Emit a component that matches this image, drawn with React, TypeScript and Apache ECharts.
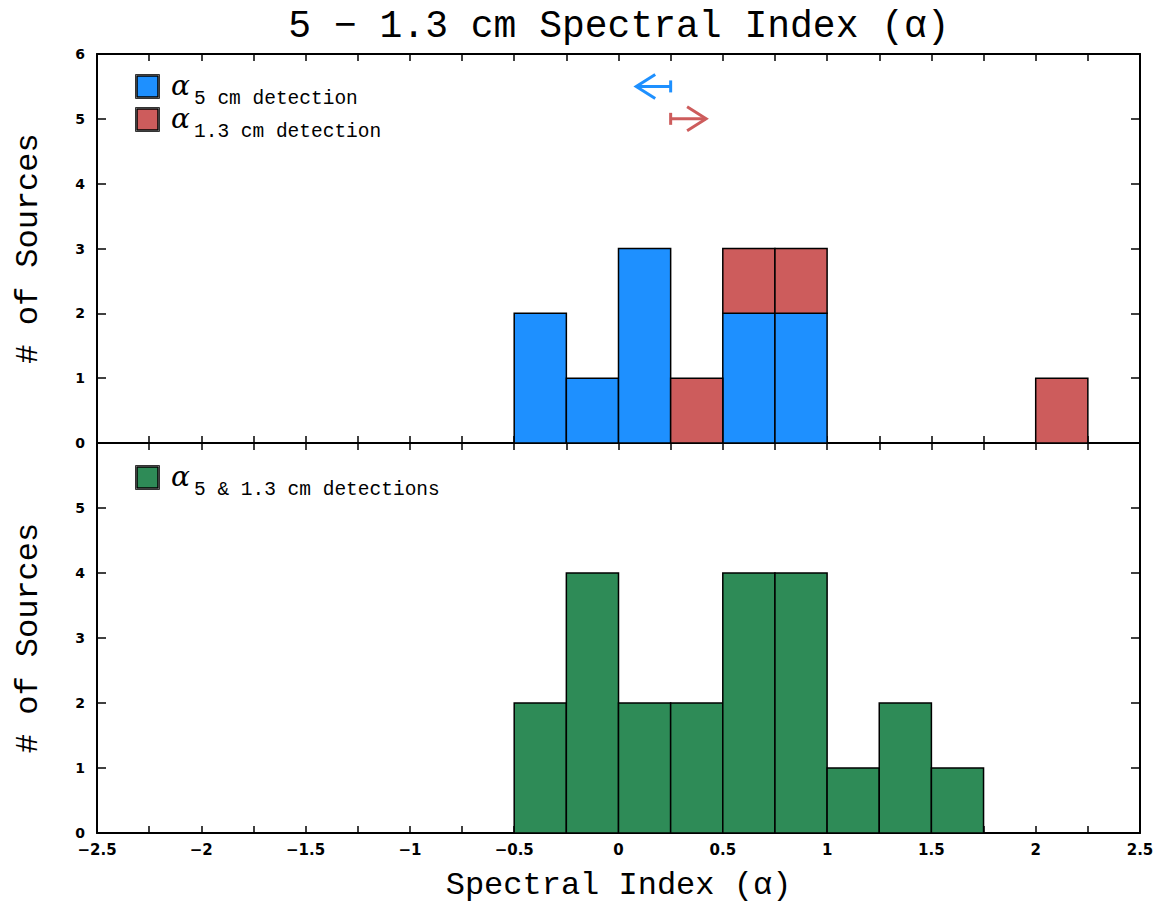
import React, { useEffect, useRef } from "react";
import * as echarts from "echarts";

// Histogram bins (left edges) and their common width
const binStarts = [-0.5, -0.25, 0, 0.25, 0.5, 0.75, 1, 1.25, 1.5, 1.75, 2];
const binWidth = 0.25;

// Upper panel: single-band detections (stacked)
const counts5cm = [2, 1, 3, 0, 2, 2, 0, 0, 0, 0, 0];
const counts13cm = [0, 0, 0, 1, 1, 1, 0, 0, 0, 0, 1];

// Lower panel: detections in both bands
const countsBoth = [2, 4, 2, 2, 4, 4, 1, 2, 1, 0, 0];

// Limit arrows in the upper panel: [start, tip, level]
const limitArrow5cm = [0.25, 0.085, 5.5];
const limitArrow13cm = [0.25, 0.42, 5.0];

const xTickLabels = ["-2.5", "-2", "-1.5", "-1", "-0.5", "0", "0.5", "1", "1.5", "2", "2.5"];

const BLUE = "#1e90ff";
const RED = "#cd5c5c";
const GREEN = "#2e8b57";
const MONO = "'Liberation Mono', 'DejaVu Sans Mono', monospace";
const TICKFONT = "'DejaVu Sans', sans-serif";

function binRects(counts: number[], base?: number[]) {
  const out: number[][] = [];
  counts.forEach((c, i) => {
    if (c <= 0) return;
    const b = base ? base[i] : 0;
    out.push([binStarts[i], binStarts[i] + binWidth, b, b + c]);
  });
  return out;
}

function histSeries(data: number[][], color: string, axisIdx: number) {
  return {
    type: "custom",
    xAxisIndex: axisIdx,
    yAxisIndex: axisIdx,
    data,
    encode: { x: [0, 1], y: [2, 3] },
    z: 5,
    renderItem: (_p: any, api: any) => {
      const a = api.coord([api.value(0), api.value(2)]);
      const b = api.coord([api.value(1), api.value(3)]);
      return {
        type: "rect",
        shape: { x: a[0], y: b[1], width: b[0] - a[0], height: a[1] - b[1] },
        style: { fill: color, stroke: "#000", lineWidth: 1.5 },
      };
    },
  };
}

function arrowSeries(arrow: number[], color: string) {
  return {
    type: "custom",
    xAxisIndex: 0,
    yAxisIndex: 0,
    data: [arrow],
    encode: { x: [0, 1], y: 2 },
    z: 6,
    renderItem: (_p: any, api: any) => {
      const s = api.coord([api.value(0), api.value(2)]);
      const t = api.coord([api.value(1), api.value(2)]);
      const dir = t[0] < s[0] ? 1 : -1;
      const style = { stroke: color, lineWidth: 3, fill: "none" };
      return {
        type: "group",
        children: [
          { type: "line", shape: { x1: s[0], y1: s[1], x2: t[0], y2: t[1] }, style },
          { type: "line", shape: { x1: s[0], y1: s[1] - 6, x2: s[0], y2: s[1] + 6 }, style },
          {
            type: "polyline",
            shape: {
              points: [
                [t[0] + dir * 19, t[1] - 12],
                [t[0], t[1]],
                [t[0] + dir * 19, t[1] + 12],
              ],
            },
            style,
          },
        ],
      };
    },
  };
}

const axisLine = { onZero: false, lineStyle: { color: "#000", width: 2 } };

function xAxisDef(grid: number, position: string, labels: boolean, extra: any = {}) {
  return {
    type: "value",
    gridIndex: grid,
    position,
    min: -2.5,
    max: 2.5,
    interval: 0.5,
    axisLine,
    axisTick: { inside: true, length: 7, lineStyle: { color: "#000", width: 1.5 } },
    minorTick: { show: true, splitNumber: 2, length: 7, lineStyle: { color: "#000", width: 1.5 } },
    splitLine: { show: false },
    axisLabel: labels
      ? {
          show: true,
          margin: 9,
          color: "#000",
          fontFamily: TICKFONT,
          fontWeight: "bold",
          fontSize: 15,
          formatter: (v: number) => {
            const s = xTickLabels.find((t) => Math.abs(parseFloat(t) - v) < 1e-6) ?? String(v);
            return s.replace("-", "\u2212");
          },
        }
      : { show: false },
    ...extra,
  };
}

function yAxisDef(grid: number, position: string, labels: boolean, hideTop: boolean) {
  return {
    type: "value",
    gridIndex: grid,
    position,
    min: 0,
    max: 6,
    interval: 1,
    axisLine,
    axisTick: { inside: true, length: 9, lineStyle: { color: "#000", width: 1.5 } },
    splitLine: { show: false },
    axisLabel: labels
      ? {
          show: true,
          margin: 12,
          color: "#000",
          fontFamily: TICKFONT,
          fontWeight: "bold",
          fontSize: 14,
          formatter: (v: number) => (hideTop && v === 6 ? "" : String(v)),
        }
      : { show: false },
    name: labels ? "# of Sources" : "",
    nameLocation: "middle",
    nameGap: 53,
    nameTextStyle: { fontFamily: MONO, fontSize: 32, color: "#000" },
  };
}

function legendEntry(x: number, y: number, color: string, sub: string) {
  return {
    type: "group",
    children: [
      {
        type: "rect",
        shape: { x, y, width: 21, height: 21 },
        style: { fill: color, stroke: "#000", lineWidth: 1.5 },
      },
      {
        type: "rect",
        shape: { x: x - 1.5, y: y - 1.5, width: 24, height: 24 },
        style: { fill: "none", stroke: "#000", lineWidth: 0.8 },
      },
      {
        type: "text",
        x: x + 34,
        y: y + 9,
        style: {
          text: "\u03b1",
          font: "italic 28px 'DejaVu Serif', serif",
          fill: "#000",
          verticalAlign: "middle",
        },
      },
      {
        type: "text",
        x: x + 57,
        y: y + 33,
        style: {
          text: sub,
          font: `19.5px ${MONO}`,
          fill: "#000",
          verticalAlign: "bottom",
        },
      },
    ],
  };
}

export default function App() {
  const ref = useRef<HTMLDivElement>(null);

  useEffect(() => {
    if (!ref.current) return;
    const chart = echarts.init(ref.current, null, { renderer: "svg" });
    const zeros = binStarts.map(() => 0);
    chart.setOption({
      animation: false,
      backgroundColor: "#fff",
      title: {
        text: "5 \u2212 1.3 cm Spectral Index (\u03b1)",
        left: 614,
        textAlign: "center",
        top: 2,
        textStyle: { fontFamily: MONO, fontSize: 38, fontWeight: "normal", color: "#000" },
      },
      grid: [
        { left: 97, right: 19, top: 54, height: 389 },
        { left: 97, right: 19, top: 443, height: 390 },
      ],
      xAxis: [
        xAxisDef(0, "bottom", false),
        xAxisDef(1, "bottom", true, {
          name: "Spectral Index (\u03b1)",
          nameLocation: "middle",
          nameGap: 36,
          nameTextStyle: { fontFamily: MONO, fontSize: 32, color: "#000" },
        }),
        xAxisDef(0, "top", false),
        xAxisDef(1, "top", false),
      ],
      yAxis: [
        yAxisDef(0, "left", true, false),
        yAxisDef(1, "left", true, true),
        yAxisDef(0, "right", false, false),
        yAxisDef(1, "right", false, false),
      ],
      series: [
        histSeries(binRects(counts5cm, zeros), BLUE, 0),
        histSeries(binRects(counts13cm, counts5cm), RED, 0),
        histSeries(binRects(countsBoth, zeros), GREEN, 1),
        arrowSeries(limitArrow5cm, BLUE),
        arrowSeries(limitArrow13cm, RED),
      ],
      graphic: [
        legendEntry(137, 76, BLUE, "5 cm detection"),
        legendEntry(137, 109, RED, "1.3 cm detection"),
        legendEntry(137, 467, GREEN, "5 & 1.3 cm detections"),
      ],
    });
    return () => chart.dispose();
  }, []);

  return (
    <div
      ref={ref}
      style={{ position: "fixed", left: 0, top: 0, width: 1159, height: 919, background: "#fff" }}
    />
  );
}
